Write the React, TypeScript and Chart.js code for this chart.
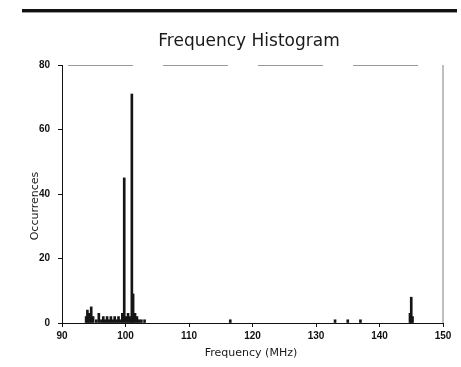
import React, { useEffect, useRef } from 'react';
import { Chart, registerables } from 'chart.js';

Chart.register(...registerables);

const chartTitle = 'Frequency Histogram';
const xAxisTitle = 'Frequency (MHz)';
const yAxisTitle = 'Occurrences';

const xTickValues = [90, 100, 110, 120, 130, 140, 150];
const yTickValues = [0, 20, 40, 60, 80];

const frequenciesMHz = [
  93.8, 94.0, 94.3, 94.6, 94.9, 95.4, 95.8, 96.2, 96.5, 96.8,
  97.1, 97.4, 97.7, 98.0, 98.3, 98.6, 98.9, 99.2, 99.5, 99.8,
  100.1, 100.4, 100.7, 101.0, 101.2, 101.5, 101.8, 102.1, 102.5, 103.0,
  116.5, 133.0, 135.0, 137.0, 144.8, 145.0, 145.2,
];
const occurrences = [
  2, 4, 3, 5, 2, 1, 3, 1, 2, 1,
  2, 1, 2, 1, 2, 1, 2, 1, 3, 45,
  2, 3, 2, 71, 9, 3, 2, 1, 1, 1,
  1, 1, 1, 1, 3, 8, 2,
];

export default function App() {
  const ref = useRef<HTMLCanvasElement>(null);

  useEffect(() => {
    document.body.style.margin = '0';
    const canvas = ref.current;
    if (!canvas) return;

    const decor = {
      id: 'decor',
      afterDraw(chart: any) {
        const { ctx, chartArea: a } = chart;
        ctx.save();
        // page header rule
        ctx.fillStyle = '#111';
        ctx.fillRect(22, 9, 435, 3);
        ctx.fillStyle = '#9a9a9a';
        ctx.fillRect(22, 12, 435, 1);
        // frame top (broken) and right
        ctx.strokeStyle = '#999';
        ctx.lineWidth = 1;
        ctx.setLineDash([65, 30]);
        ctx.beginPath();
        ctx.moveTo(a.left + 6, a.top + 0.5);
        ctx.lineTo(a.right, a.top + 0.5);
        ctx.stroke();
        ctx.setLineDash([]);
        ctx.strokeStyle = '#aaa';
        ctx.lineWidth = 1.5;
        ctx.beginPath();
        ctx.moveTo(a.right, a.top);
        ctx.lineTo(a.right, a.bottom);
        ctx.stroke();
        // titles
        ctx.fillStyle = '#1a1a1a';
        ctx.textAlign = 'center';
        ctx.textBaseline = 'alphabetic';
        ctx.font = '17px "DejaVu Sans"';
        ctx.fillText(chartTitle, 249, 46);
        ctx.font = '11px "DejaVu Sans"';
        ctx.fillText(xAxisTitle, 251, 356);
        ctx.translate(38, 206);
        ctx.rotate(-Math.PI / 2);
        ctx.fillText(yAxisTitle, 0, 0);
        ctx.restore();
      },
    };

    const chart = new Chart(canvas, {
      type: 'bar',
      data: {
        datasets: [
          {
            data: frequenciesMHz.map((f, i) => ({ x: f, y: occurrences[i] })),
            backgroundColor: '#151515',
            borderWidth: 0,
            barThickness: 2,
          },
        ],
      },
      options: {
        responsive: false,
        animation: false,
        devicePixelRatio: 1,
        layout: { padding: { top: 65, right: 18, left: 0, bottom: 0 } },
        plugins: {
          legend: { display: false },
          title: { display: false },
          tooltip: { enabled: false },
        },
        scales: {
          x: {
            type: 'linear',
            offset: false,
            min: 90,
            max: 150,
            afterBuildTicks: (s: any) => {
              s.ticks = xTickValues.map((v) => ({ value: v }));
            },
            afterFit: (s: any) => {
              s.height = 44;
            },
            grid: { display: true, drawOnChartArea: false, offset: false, tickLength: 4, color: '#111' },
            border: { display: true, color: '#111', width: 1 },
            ticks: {
              padding: 3,
              maxRotation: 0,
              autoSkip: false,
              color: '#111',
              font: { family: '"Liberation Sans", Arial', size: 10, weight: 'bold' },
            },
          },
          y: {
            min: 0,
            max: 80,
            afterBuildTicks: (s: any) => {
              s.ticks = yTickValues.map((v) => ({ value: v }));
            },
            afterFit: (s: any) => {
              s.width = 62;
            },
            grid: { display: true, drawOnChartArea: false, tickLength: 4, color: '#111' },
            border: { display: true, color: '#111', width: 1 },
            ticks: {
              padding: 8,
              color: '#111',
              font: { family: '"Liberation Sans", Arial', size: 10, weight: 'bold' },
            },
          },
        },
      },
      plugins: [decor],
    } as any);

    return () => chart.destroy();
  }, []);

  return (
    <div style={{ position: 'fixed', left: 0, top: 0, width: 461, height: 367, background: '#fff' }}>
      <canvas ref={ref} width={461} height={367} style={{ width: 461, height: 367 }} />
    </div>
  );
}
